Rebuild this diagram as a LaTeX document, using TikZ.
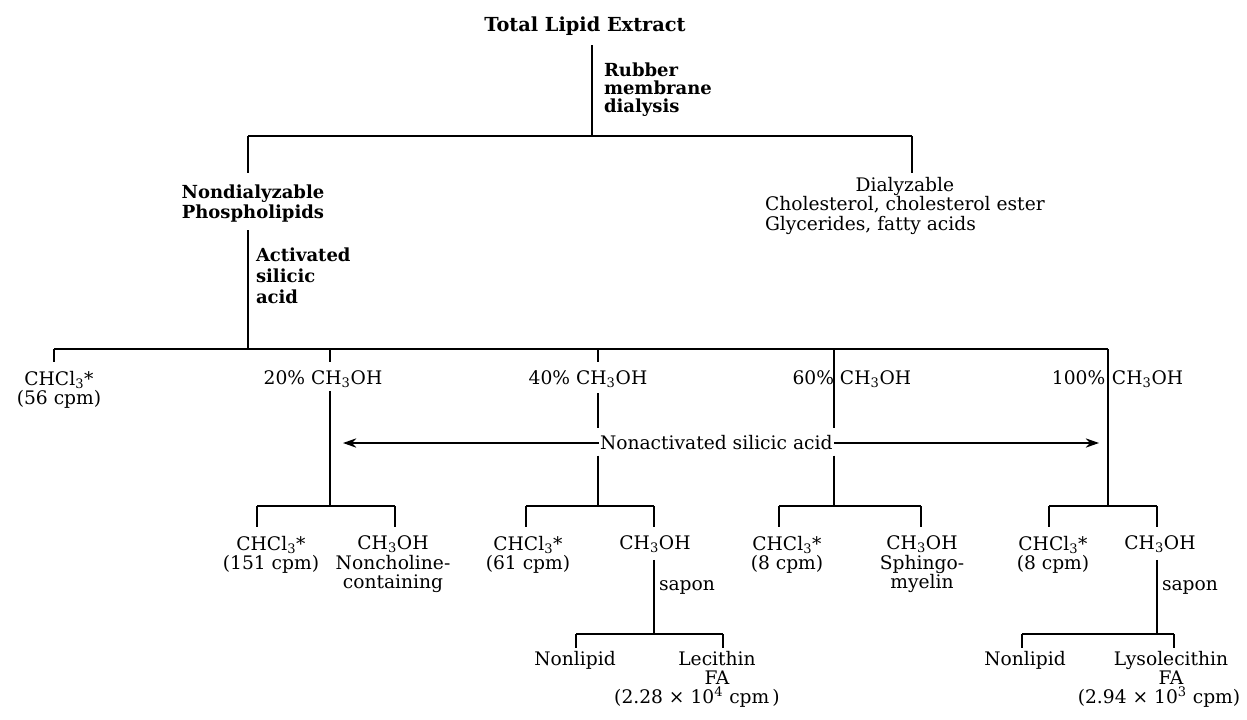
\documentclass[tikz,border=0pt]{standalone}
\usepackage{fontspec}
\setmainfont{DejaVu Serif}
\usetikzlibrary{arrows.meta,calc}
\begin{document}
\begin{tikzpicture}[x=0.75pt,y=-0.75pt,
  every node/.style={inner sep=0pt, outer sep=0pt, align=center,
    font=\fontsize{14}{14.5}\selectfont},
  bt/.style={font=\fontsize{13.5}{14}\selectfont\bfseries},
  ln/.style={line width=1.1pt},
  arr/.style={line width=1.1pt, -{Stealth[length=10pt,width=7pt]}}]
\useasboundingbox (0,0) rectangle (1247,719);

% ---- nodes ----
\node[bt, anchor=north, font=\fontsize{14.5}{15}\selectfont\bfseries] (top) at (585,17) {Total Lipid Extract};
\node[bt, anchor=north west, align=left, font=\fontsize{13.5}{13.5}\selectfont\bfseries] (rub) at (604,63) {Rubber\\membrane\\dialysis};
\node[bt, anchor=north, font=\fontsize{13.5}{15}\selectfont\bfseries] (nond) at (253,185) {Nondialyzable\\Phospholipids};
\node[anchor=north west, font=\fontsize{14}{13.5}\selectfont] (dial) at (765,177) {\begin{tabular}{@{}l@{}}\multicolumn{1}{@{}c@{}}{Dialyzable}\\Cholesterol, cholesterol ester\\Glycerides, fatty acids\end{tabular}};
\node[bt, anchor=north west, align=left, font=\fontsize{13.5}{15.5}\selectfont\bfseries] (act) at (256,248) {Activated\\silicic\\acid};

\node[anchor=north] (c0) at (59,371) {CHCl\textsubscript{3}*\\(56 cpm)};
\node[anchor=north] (n20) at (323,371) {20\% CH\textsubscript{3}OH};
\node[anchor=north] (n40) at (588,371) {40\% CH\textsubscript{3}OH};
\node[anchor=north] (n60) at (834,371) {\llap{60\%}\rlap{\hspace{4.5pt}CH\textsubscript{3}OH}};
\node[anchor=north] (n100) at (1108,371) {\llap{100\%\hspace{2pt}}\rlap{\hspace{3pt}CH\textsubscript{3}OH}};

\node[anchor=west] (nonact) at (600,443) {Nonactivated silicic acid};

\node[anchor=north] (c20a) at (271,536) {CHCl\textsubscript{3}*\\(151 cpm)};
\node[anchor=north] (c20b) at (393,536) {CH\textsubscript{3}OH\\Noncholine-\\containing};
\node[anchor=north] (c40a) at (528,536) {CHCl\textsubscript{3}*\\(61 cpm)};
\node[anchor=north] (c40b) at (655,536) {CH\textsubscript{3}OH};
\node[anchor=north] (c60a) at (787,536) {CHCl\textsubscript{3}*\\(8 cpm)};
\node[anchor=north] (c60b) at (922,536) {CH\textsubscript{3}OH\\Sphingo-\\myelin};
\node[anchor=north] (c100a) at (1053,536) {CHCl\textsubscript{3}*\\(8 cpm)};
\node[anchor=north] (c100b) at (1160,536) {CH\textsubscript{3}OH};

\node[anchor=west] (sap40) at (659,587) {sapon};
\node[anchor=west] (sap100) at (1162,587) {sapon};

\node[anchor=north] (nl40) at (575,651) {Nonlipid};
\node[anchor=north] (lec) at (717,651) {Lecithin\\FA\\(2.28 × 10\textsuperscript{4} cpm\,)\hspace*{30pt}};
\node[anchor=north] (nl100) at (1025,651) {Nonlipid};
\node[anchor=north] (lyso) at (1171,651) {Lysolecithin\\FA\\(2.94 × 10\textsuperscript{3} cpm)\hspace*{18pt}};

% ---- junction coordinates ----
\coordinate (j1) at (592,136);
\coordinate (hL) at (248,136);
\coordinate (hR) at (912,136);
\coordinate (sL) at (248,349);
\coordinate (s0) at (54,349);
\coordinate (s20) at (330,349);
\coordinate (s40) at (598,349);
\coordinate (s60) at (834,349);
\coordinate (s100) at (1108,349);
\coordinate (b20) at (330,506);
\coordinate (b40) at (598,506);
\coordinate (b60) at (834,506);
\coordinate (b100) at (1108,506);
\coordinate (l20a) at (257,506);
\coordinate (l20b) at (395,506);
\coordinate (l40a) at (526,506);
\coordinate (l40b) at (654,506);
\coordinate (l60a) at (779,506);
\coordinate (l60b) at (921,506);
\coordinate (l100a) at (1049,506);
\coordinate (l100b) at (1157,506);
\coordinate (p40a) at (576,634);
\coordinate (p40b) at (723,634);
\coordinate (v40) at (654,634);
\coordinate (p100a) at (1022,634);
\coordinate (p100b) at (1174,634);
\coordinate (v100) at (1157,634);

% ---- connectors ----
\draw[ln, shorten <=7pt] (j1 |- top.south) -- (j1);
\draw[ln] (hL) -- (hR);
\draw[ln, shorten >=9pt] (hL) -- (hL |- nond.north);
\draw[ln, shorten >=3pt] (hR) -- (hR |- dial.north);
\draw[ln, shorten <=6pt] (hL |- nond.south) -- (sL);

\draw[ln] (s0) -- (s100);
\draw[ln, shorten >=7pt] (s0) -- (s0 |- c0.north);
\draw[ln, shorten >=7pt] (s20) -- (s20 |- n20.north);
\draw[ln, shorten >=7pt] (s40) -- (s40 |- n40.north);
\draw[ln, shorten <=2pt] (s20 |- n20.south) -- (b20);
\draw[ln, shorten <=4pt, shorten >=6pt] (s40 |- n40.south) -- (s40 |- nonact.north);
\draw[ln, shorten <=4pt] (s40 |- nonact.south) -- (b40);
\draw[ln, shorten >=6pt] (s60) -- (s60 |- nonact.north);
\draw[ln, shorten <=4pt] (s60 |- nonact.south) -- (b60);
\draw[ln] (s100) -- (b100);

\draw[arr, shorten <=1pt] (nonact.west) -- ($(s20 |- nonact.west)+(13,0)$);
\draw[arr, shorten <=1pt] (nonact.east) -- ($(s100 |- nonact.east)+(-9,0)$);

\draw[ln] (l20a) -- (l20b);
\draw[ln] (l40a) -- (l40b);
\draw[ln] (l60a) -- (l60b);
\draw[ln] (l100a) -- (l100b);
\foreach \a/\n in {l20a/c20a, l20b/c20b, l40a/c40a, l40b/c40b, l60a/c60a, l60b/c60b, l100a/c100a, l100b/c100b}
  \draw[ln, shorten >=7pt] (\a) -- (\a |- \n.north);

\draw[ln, shorten <=5pt] (v40 |- c40b.south) -- (v40);
\draw[ln, shorten <=5pt] (v100 |- c100b.south) -- (v100);
\draw[ln] (p40a) -- (p40b);
\draw[ln] (p100a) -- (p100b);
\foreach \a/\n in {p40a/nl40, p40b/lec, p100a/nl100, p100b/lyso}
  \draw[ln, shorten >=2pt] (\a) -- (\a |- \n.north);
\end{tikzpicture}
\end{document}
